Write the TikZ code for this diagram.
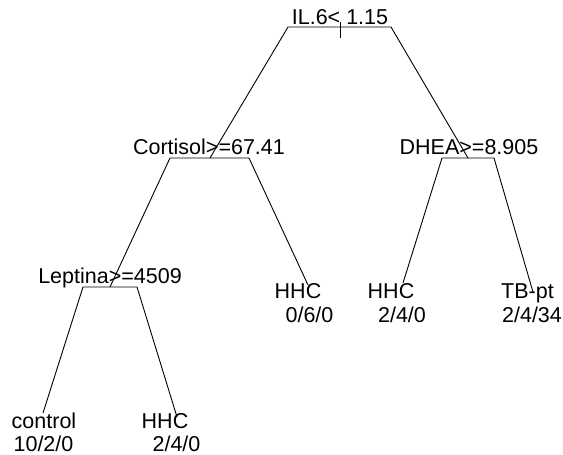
\documentclass[tikz,border=0pt]{standalone}
\usepackage{fontspec}
\setmainfont{Liberation Sans}
\begin{document}
\begin{tikzpicture}[x=1pt,y=-1pt,
  lab/.style={inner sep=0pt, anchor=base, font=\fontsize{21.5}{25}\selectfont},
  br/.style={line width=0.9pt, line join=miter}]
\useasboundingbox (0,0) rectangle (563,455);
% split points
\coordinate (root) at (340,27);
\coordinate (cort) at (210,158);
\coordinate (dhea) at (468,158);
\coordinate (lept) at (110,287);
\coordinate (hhcA) at (308,285);
\coordinate (hhcB) at (403,283);
\coordinate (tbpt) at (533,292);
\coordinate (ctrl) at (43,413);
\coordinate (hhcC) at (177,417);
% shoulders of the branches
\coordinate (rootL) at (288,27);
\coordinate (rootR) at (391,27);
\coordinate (cortL) at (170,158);
\coordinate (cortR) at (249,158);
\coordinate (dheaL) at (442,158);
\coordinate (dheaR) at (494,158);
\coordinate (leptL) at (83,287);
\coordinate (leptR) at (137,287);
\coordinate (tickT) at (340,22);
\coordinate (tickB) at (340,38);
% branches
\draw[br] (cort) -- (rootL) -- (rootR) -- (dhea);
\draw[br] (tickT) -- (tickB);
\draw[br] (lept) -- (cortL) -- (cortR) -- (hhcA);
\draw[br] (hhcB) -- (dheaL) -- (dheaR) -- (tbpt);
\draw[br] (ctrl) -- (leptL) -- (leptR) -- (hhcC);
% split labels
\node[lab] (troot) at (340,24) {IL.6< 1.15};
\node[lab] (tcort) at (209,154) {Cortisol>=67.41};
\node[lab] (tdhea) at (469,154) {DHEA>=8.905};
\node[lab] (tlept) at (110,283) {Leptina>=4509};
% leaf labels
\node[lab] (lA1) at (298,298) {HHC};
\node[lab] (lA2) at (309.5,322) {0/6/0};
\node[lab] (lB1) at (391,298) {HHC};
\node[lab] (lB2) at (402,322) {2/4/0};
\node[lab] (lT1) at (527.5,298) {TB-pt};
\node[lab] (lT2) at (532,322) {2/4/34};
\node[lab] (lc1) at (44,428) {control};
\node[lab] (lc2) at (43.5,451.5) {10/2/0};
\node[lab] (lC1) at (165,428) {HHC};
\node[lab] (lC2) at (176.5,451.5) {2/4/0};
\end{tikzpicture}
\end{document}
